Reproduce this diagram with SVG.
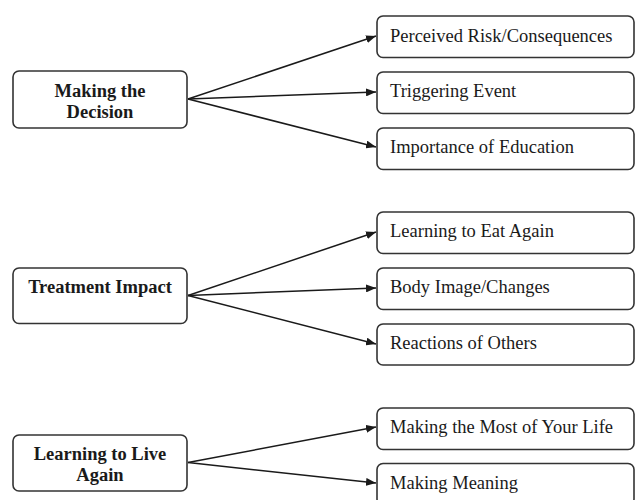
<svg xmlns="http://www.w3.org/2000/svg" width="636" height="500" viewBox="0 0 636 500">
  <defs>
    <marker id="arrow" viewBox="0 0 10 8" refX="10" refY="4" markerWidth="10" markerHeight="8" markerUnits="userSpaceOnUse" orient="auto">
      <path d="M0,0 L10,4 L0,8 Z" fill="#1a1a1a"/>
    </marker>
  </defs>
  <style>
    .box { fill: #ffffff; stroke: #333333; stroke-width: 1.6; }
    .main { font-family: "Liberation Serif", "Times New Roman", serif; font-size: 18.5px; font-weight: bold; fill: #1a1a1a; text-anchor: middle; }
    .sub { font-family: "Liberation Serif", "Times New Roman", serif; font-size: 18.5px; fill: #1a1a1a; }
    .link { fill: none; stroke: #1a1a1a; stroke-width: 1.5; marker-end: url(#arrow); }
  </style>
  <rect width="636" height="500" fill="#ffffff"/>

  <g id="connectors">
    <line class="link" x1="188" y1="99" x2="376" y2="36"/>
    <line class="link" x1="188" y1="99" x2="376" y2="92"/>
    <line class="link" x1="188" y1="99" x2="376" y2="147"/>
    <line class="link" x1="188" y1="295.5" x2="376" y2="232"/>
    <line class="link" x1="188" y1="295.5" x2="376" y2="288"/>
    <line class="link" x1="188" y1="295.5" x2="376" y2="344"/>
    <line class="link" x1="188" y1="462.5" x2="376" y2="427"/>
    <line class="link" x1="188" y1="462.5" x2="376" y2="483"/>
  </g>

  <!-- group 1 -->
  <g id="making-decision">
    <rect class="box" x="13" y="71" width="174" height="57" rx="6"/>
    <text class="main" x="100" y="97">Making the</text>
    <text class="main" x="100" y="118">Decision</text>
  </g>
  <g id="perceived-risk">
    <rect class="box" x="377" y="16" width="257" height="41.5" rx="6"/>
    <text class="sub" x="390" y="41.5">Perceived Risk/Consequences</text>
  </g>
  <g id="triggering-event">
    <rect class="box" x="377" y="72" width="257" height="41.5" rx="6"/>
    <text class="sub" x="390" y="97">Triggering Event</text>
  </g>
  <g id="importance-education">
    <rect class="box" x="377" y="128" width="257" height="41.5" rx="6"/>
    <text class="sub" x="390" y="153">Importance of Education</text>
  </g>

  <!-- group 2 -->
  <g id="treatment-impact">
    <rect class="box" x="13" y="268" width="174" height="55.5" rx="6"/>
    <text class="main" x="100" y="292.5">Treatment Impact</text>
  </g>
  <g id="learning-eat">
    <rect class="box" x="377" y="212" width="257" height="41.5" rx="6"/>
    <text class="sub" x="390" y="237">Learning to Eat Again</text>
  </g>
  <g id="body-image">
    <rect class="box" x="377" y="268" width="257" height="41.5" rx="6"/>
    <text class="sub" x="390" y="293">Body Image/Changes</text>
  </g>
  <g id="reactions-others">
    <rect class="box" x="377" y="324" width="257" height="41" rx="6"/>
    <text class="sub" x="390" y="349">Reactions of Others</text>
  </g>

  <!-- group 3 -->
  <g id="learning-live">
    <rect class="box" x="13" y="435" width="174" height="56" rx="6"/>
    <text class="main" x="100" y="460">Learning to Live</text>
    <text class="main" x="100" y="481">Again</text>
  </g>
  <g id="most-of-life">
    <rect class="box" x="377" y="408" width="257" height="41.5" rx="6"/>
    <text class="sub" x="390" y="433">Making the Most of Your Life</text>
  </g>
  <g id="making-meaning">
    <rect class="box" x="377" y="463.5" width="257" height="41.5" rx="6"/>
    <text class="sub" x="390" y="489">Making Meaning</text>
  </g>
</svg>
